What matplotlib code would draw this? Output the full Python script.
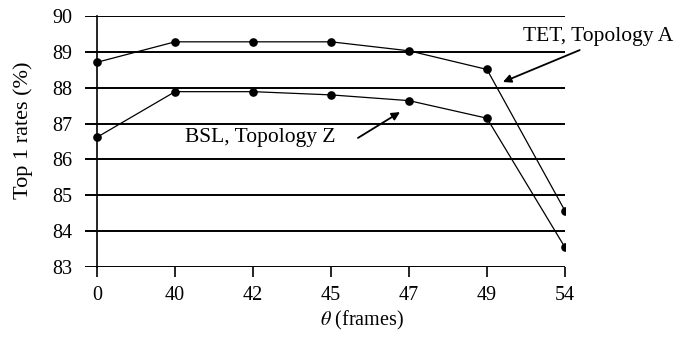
import matplotlib.pyplot as plt

theta_labels = ['0', '40', '42', '45', '47', '49', '54']
tet_topology_a = [88.71, 89.28, 89.28, 89.28, 89.03, 88.51, 84.57]
bsl_topology_z = [86.62, 87.89, 87.89, 87.80, 87.64, 87.15, 83.55]
y_ticks = [83, 84, 85, 86, 87, 88, 89, 90]

plt.rcParams['font.family'] = ['Liberation Serif', 'DejaVu Serif']
plt.rcParams['mathtext.fontset'] = 'stix'

fig = plt.figure(figsize=(6.94, 3.37), dpi=100)
ax = fig.add_axes([0.1225, 0.2077, 0.6915, 0.7448])

pos = list(range(len(theta_labels)))
for yv in y_ticks:
    ax.axhline(yv, color='black', lw=1.4, zorder=1)

ax.plot(pos, tet_topology_a, color='black', lw=0.9, marker='o', ms=5.2, zorder=3)
ax.plot(pos, bsl_topology_z, color='black', lw=0.9, marker='o', ms=5.2, zorder=3)

ax.set_xlim(-0.155, 6.0)
ax.set_ylim(83, 90)
ax.set_xticks(pos)
ax.set_xticklabels(theta_labels)
ax.set_yticks(y_ticks)
for s in ['top', 'right', 'bottom']:
    ax.spines[s].set_visible(False)
ax.spines['left'].set_position(('data', 0))
ax.spines['left'].set_linewidth(1.2)
ax.tick_params(axis='x', direction='out', length=7, width=1.2, labelsize=14.5, pad=7)
ax.tick_params(axis='y', length=0, labelsize=14.5, pad=18)

ax.set_ylabel('Top 1 rates (%)', fontsize=16, va='center')
ax.yaxis.set_label_coords(-0.129, 0.546)
ax.set_xlabel(r'$\theta$ (frames)', fontsize=14.5, va='center')
ax.xaxis.set_label_coords(0.577, -0.213)

# labels and arrows
ax.text(5.46, 89.43, 'TET, Topology A', fontsize=15.5, ha='left', va='center')
ax.annotate('', xy=(5.205, 88.16), xytext=(6.19, 89.05), annotation_clip=False,
            arrowprops=dict(arrowstyle='-|>', color='black', lw=1.3,
                            mutation_scale=12, shrinkA=0, shrinkB=0))
ax.text(1.128, 86.60, 'BSL, Topology Z', fontsize=15.5, ha='left', va='center')
ax.annotate('', xy=(3.885, 87.32), xytext=(3.346, 86.60),
            arrowprops=dict(arrowstyle='-|>', color='black', lw=1.3,
                            mutation_scale=12, shrinkA=0, shrinkB=0))

fig.savefig('out.png', dpi=100)
